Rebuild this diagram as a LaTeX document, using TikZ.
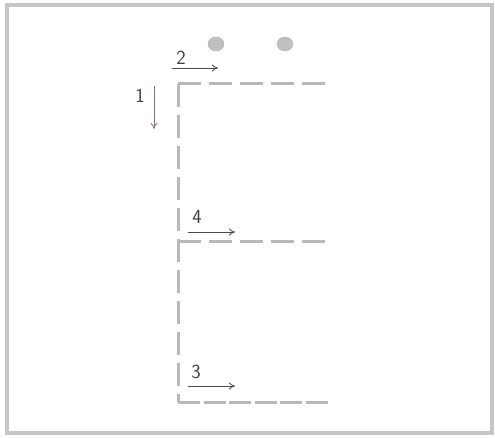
\documentclass[tikz,border=0pt]{standalone}
\usetikzlibrary{arrows.meta}
\definecolor{mauve}{RGB}{140,112,128}
\tikzset{
  wall/.style={draw=gray!55, line width=3pt, dash pattern=on 23pt off 8pt},
  move/.style={draw=black!70, line width=0.8pt, -{To[length=6pt,width=7pt]}},
  lbl/.style={font=\sffamily\fontsize{20}{24}\selectfont, text=black!75, inner sep=0pt},
  spot/.style={fill=gray!50, draw=gray!60}
}
\begin{document}
\begin{tikzpicture}[x=1pt,y=-1pt]
\useasboundingbox (0,0) rectangle (495,438);
\draw[gray!45, line width=4pt] (7,5) rectangle (492,433);
% two spots above the frame
\fill[spot] (216,44) ellipse (8 and 7);
\fill[spot] (285,44) ellipse (8 and 7);
% dashed E
\coordinate (top) at (178,84);
\coordinate (mid) at (178,242);
\coordinate (bot) at (178,402);
\draw[wall] (top) -- (bot);
\draw[wall] (top) -- (325,84);
\draw[wall] (mid) -- (325,242);
\draw[wall, dash pattern=on 22pt off 3.5pt] (bot) -- (328,402);
% arrows with numbers
\node[lbl] (n1) at (140,96) {1};
\coordinate (a1) at (154,86);
\coordinate (b1) at (154,129);
\draw[move, draw=mauve] (a1) -- (b1);
\node[lbl] (n2) at (181,58) {2};
\coordinate (a2) at (172,68);
\coordinate (b2) at (218,68);
\draw[move] (a2) -- (b2);
\node[lbl] (n4) at (197,217) {4};
\coordinate (a4) at (188,232);
\coordinate (b4) at (235,232);
\draw[move] (a4) -- (b4);
\node[lbl] (n3) at (196,372) {3};
\coordinate (a3) at (188,386);
\coordinate (b3) at (235,386);
\draw[move] (a3) -- (b3);
\end{tikzpicture}
\end{document}
